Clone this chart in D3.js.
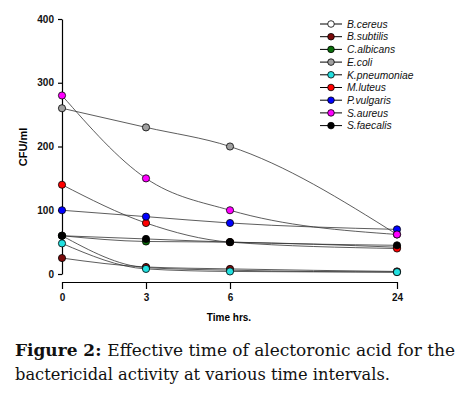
<!DOCTYPE html>
<html>
<head>
<meta charset="utf-8">
<script src="https://cdn.jsdelivr.net/npm/d3@7"></script>
<style>
  body { margin: 0; background: #fff; }
  svg { display: block; }
</style>
</head>
<body>
<svg width="465" height="399"></svg>
<script>
// data
const hours = [0, 3, 6, 24];
const species = ["B.cereus", "B.subtilis", "C.albicans", "E.coli", "K.pneumoniae", "M.luteus", "P.vulgaris", "S.aureus", "S.faecalis"];
const colors = ["#ffffff", "#7a0a0a", "#0a6e0a", "#a0a0a0", "#22e0e0", "#ff0000", "#0000ff", "#ff00ff", "#000000"];
const bCereus = [60, 10, 6, 3];
const bSubtilis = [25, 11, 8, 4];
const cAlbicans = [60, 51, 50, 42];
const eColi = [260, 230, 200, 62];
const kPneumoniae = [48, 8, 4, 3];
const mLuteus = [140, 80, 50, 40];
const pVulgaris = [100, 90, 80, 70];
const sAureus = [280, 150, 100, 62];
const sFaecalis = [60, 55, 50, 45];
const yTicks = [0, 100, 200, 300, 400];

const seriesValues = [bCereus, bSubtilis, cAlbicans, eColi, kPneumoniae, mLuteus, pVulgaris, sAureus, sFaecalis];
const series = species.map((name, i) => ({ name: name, color: colors[i], values: seriesValues[i] }));

const sans = "'Liberation Sans', Arial, sans-serif";
const svg = d3.select("svg");

// x is not evenly spaced: 0,3,6 equal steps then 24 at double step
const xscale = d3.scaleLinear().domain([0, 3, 6, 24]).range([62, 146, 230, 397]);
const yscale = d3.scaleLinear().domain([0, 400]).range([274, 19]);

const yaxis = d3.axisLeft(yscale).tickValues(yTicks).tickSize(4).tickSizeOuter(0).tickPadding(4);
const gy = svg.append("g").attr("transform", "translate(62,0)").call(yaxis);
gy.select(".domain").attr("stroke", "#000").attr("stroke-width", 1.2);

const xaxis = d3.axisBottom(xscale).tickValues(hours).tickSize(7).tickSizeOuter(0).tickPadding(5);
const gx = svg.append("g").attr("transform", "translate(0,282)").call(xaxis);
gx.select(".domain").attr("stroke", "#000").attr("stroke-width", 1.2);

svg.selectAll(".tick line").attr("stroke", "#000").attr("stroke-width", 1.2);
svg.selectAll(".tick text")
  .attr("font-family", sans)
  .attr("font-weight", "bold")
  .attr("font-size", 10)
  .attr("fill", "#111");

svg.append("text")
  .attr("transform", "translate(27,147) rotate(-90)")
  .attr("text-anchor", "middle")
  .attr("font-family", sans)
  .attr("font-weight", "bold")
  .attr("font-size", 11)
  .text("CFU/ml");

svg.append("text")
  .attr("x", 229).attr("y", 321)
  .attr("text-anchor", "middle")
  .attr("font-family", sans)
  .attr("font-weight", "bold")
  .attr("font-size", 10)
  .text("Time hrs.");

const line = d3.line()
  .x((d, i) => xscale(hours[i]))
  .y(d => yscale(d))
  .curve(d3.curveMonotoneX);

const lines = svg.append("g");
series.forEach(s => {
  lines.append("path")
    .attr("d", line(s.values))
    .attr("fill", "none")
    .attr("stroke", "#333")
    .attr("stroke-width", 0.8);
});

const pts = svg.append("g");
series.forEach(s => {
  pts.selectAll(null)
    .data(s.values)
    .join("circle")
    .attr("cx", (d, i) => xscale(hours[i]))
    .attr("cy", d => yscale(d))
    .attr("r", 3.6)
    .attr("fill", s.color)
    .attr("stroke", "#000")
    .attr("stroke-width", 0.8);
});

// legend
const legend = svg.append("g").attr("transform", "translate(320,24)");
series.forEach((s, i) => {
  const row = legend.append("g").attr("transform", "translate(0," + (i * 12.7) + ")");
  row.append("line").attr("x1", 0).attr("x2", 22).attr("stroke", "#000").attr("stroke-width", 1);
  row.append("circle").attr("cx", 11).attr("r", 3.3).attr("fill", s.color).attr("stroke", "#000").attr("stroke-width", 0.8);
  row.append("text")
    .attr("x", 27).attr("y", 3.7)
    .attr("font-family", sans)
    .attr("font-style", "italic")
    .attr("font-size", 10.3)
    .attr("fill", "#111")
    .text(s.name);
});

// caption
const cap = svg.append("g")
  .attr("font-family", "'DejaVu Serif', Georgia, serif")
  .attr("font-size", 16)
  .attr("fill", "#111");
const l1 = cap.append("text").attr("x", 15).attr("y", 356).attr("textLength", 440).attr("lengthAdjust", "spacingAndGlyphs");
l1.append("tspan").attr("font-weight", "bold").text("Figure 2: ");
l1.append("tspan").text("Effective time of alectoronic acid for the");
cap.append("text").attr("x", 15).attr("y", 380).attr("textLength", 375).attr("lengthAdjust", "spacingAndGlyphs")
  .text("bactericidal activity at various time intervals.");
</script>
</body>
</html>
